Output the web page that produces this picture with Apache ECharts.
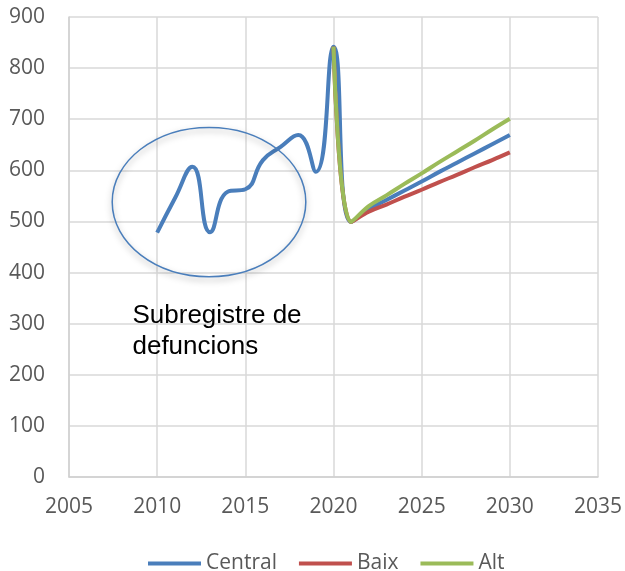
<!DOCTYPE html>
<html><head><meta charset="utf-8">
<script src="https://cdn.jsdelivr.net/npm/echarts@6/dist/echarts.min.js"></script>
<style>html,body{margin:0;padding:0;background:#fff}#c{width:625px;height:571px}</style>
</head><body><div id="c"></div>
<script>
var yearsCentral = [2010,2011,2012,2013,2014,2015,2016,2017,2018,2019,2020,2021,2022,2023,2024,2025,2026,2027,2028,2029,2030];
var central = [478,545,607,479,558,563,620,646,669,597,842,499,524,542,560,578,597,615,633,651,669];
var yearsScen = [2020,2021,2022,2023,2024,2025,2026,2027,2028,2029,2030];
var baix = [842,499,519,533,548,562,577,591,606,620,635];
var alt = [842,499,530,551,573,594,616,637,658,680,701];
var xTicks = {min:2005, max:2035, interval:5};
var yTicks = {min:0, max:900, interval:100};
var annotationText = 'Subregistre de\ndefuncions';
var ellipseCenter = [2012.94, 538];
var ellipseRadius = [5.49, 146];

function pairs(xs, ys){ return xs.map(function(x,i){return [x, ys[i]];}); }

var chart = echarts.init(document.getElementById('c'));
var labelFont = {color:'#595959', fontSize:21, fontFamily:'Open Sans'};
var gridLine = {lineStyle:{color:'#d9d9d9', width:1.5}};
chart.setOption({
  animation:false,
  grid:{left:69, right:27, top:17, bottom:94},
  xAxis:{type:'value', min:xTicks.min, max:xTicks.max, interval:xTicks.interval,
    axisLine:{show:true, lineStyle:{color:'#d0d0d0', width:1.5}}, axisTick:{show:false},
    splitLine:Object.assign({show:true}, gridLine),
    axisLabel:Object.assign({margin:20, formatter:function(v){return String(v);}}, labelFont)},
  yAxis:{type:'value', min:yTicks.min, max:yTicks.max, interval:yTicks.interval,
    axisLine:{show:true, lineStyle:{color:'#d0d0d0', width:1.5}}, axisTick:{show:false},
    splitLine:Object.assign({show:true}, gridLine),
    axisLabel:Object.assign({margin:24}, labelFont)},
  legend:{top:548, left:143, icon:'rect', itemWidth:53, itemHeight:4, itemGap:22,
    textStyle:{color:'#595959', fontSize:21, fontFamily:'Open Sans'},
    data:['Central','Baix','Alt']},
  series:[
    {name:'Central', type:'line', data:pairs(yearsCentral, central), smooth:0.5, showSymbol:false,
      lineStyle:{width:4, color:'#4a7ebb'}, itemStyle:{color:'#4a7ebb'}, z:2},
    {name:'Baix', type:'line', data:pairs(yearsScen, baix), smooth:0.4, showSymbol:false,
      lineStyle:{width:4, color:'#c0504d'}, itemStyle:{color:'#c0504d'}, z:3},
    {name:'Alt', type:'line', data:pairs(yearsScen, alt), smooth:0.4, showSymbol:false,
      lineStyle:{width:4, color:'#9bbb59'}, itemStyle:{color:'#9bbb59'}, z:4}
  ]
});
var c = chart.convertToPixel({gridIndex:0}, ellipseCenter);
var e = chart.convertToPixel({gridIndex:0}, [ellipseCenter[0]+ellipseRadius[0], ellipseCenter[1]+ellipseRadius[1]]);
var t = chart.convertToPixel({gridIndex:0}, [2008.6, 345]);
chart.setOption({graphic:[
  {type:'ellipse', shape:{cx:c[0], cy:c[1], rx:Math.abs(e[0]-c[0]), ry:Math.abs(c[1]-e[1])},
   style:{fill:'none', stroke:'#4a7ebb', lineWidth:1.5, shadowBlur:6, shadowColor:'rgba(0,0,0,0.35)', shadowOffsetY:3}, z:10},
  {type:'text', x:t[0], y:t[1], style:{text:annotationText, fill:'#000', font:'26px "Liberation Sans"', lineHeight:31}, z:10}
]});
</script></body></html>
